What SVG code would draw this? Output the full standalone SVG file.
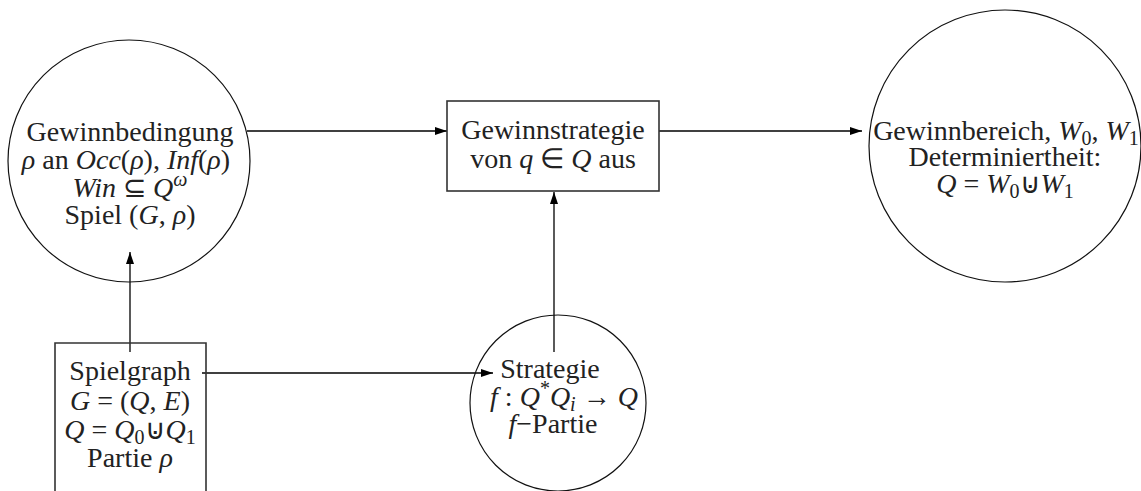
<svg xmlns="http://www.w3.org/2000/svg" width="1141" height="491" viewBox="0 0 1141 491">
<style>
.t{font-family:"Liberation Serif","Times New Roman",serif;font-size:28px;fill:#222;text-anchor:middle}
.i{font-style:italic}
.s{font-size:20px}
.node{fill:none;stroke:#111;stroke-width:1.2}
.box{fill:none;stroke:#333;stroke-width:1.6}
.edge{fill:none;stroke:#000;stroke-width:1.3}
</style>
<defs>
<marker id="ah" markerWidth="13" markerHeight="9" refX="12" refY="4" orient="auto" markerUnits="userSpaceOnUse">
<path d="M0,0 L12,4 L0,8 z" fill="#000"/>
</marker>
</defs>
<rect width="1141" height="491" fill="#fff"/>
<g id="connectors">
<line class="edge" x1="247" y1="131" x2="447" y2="131" marker-end="url(#ah)"/>
<line class="edge" x1="659" y1="131" x2="862" y2="131" marker-end="url(#ah)"/>
<line class="edge" x1="130" y1="352" x2="130" y2="252" marker-end="url(#ah)"/>
<line class="edge" x1="202" y1="373" x2="493" y2="373" marker-end="url(#ah)"/>
<line class="edge" x1="554" y1="352" x2="554" y2="192" marker-end="url(#ah)"/>
</g>
<g id="gewinnbedingung">
<circle class="node" cx="129" cy="161" r="121"/>
<text class="t" x="130" y="141">Gewinnbedingung</text>
<text class="t" x="126" y="169"><tspan class="i">ρ</tspan> an <tspan class="i">Occ</tspan>(<tspan class="i">ρ</tspan>), <tspan class="i">Inf</tspan>(<tspan class="i">ρ</tspan>)</text>
<text class="t" x="130" y="197"><tspan class="i">Win</tspan> ⊆ <tspan class="i">Q</tspan><tspan class="s i" dy="-11">ω</tspan></text>
<text class="t" x="130" y="224">Spiel (<tspan class="i">G</tspan>, <tspan class="i">ρ</tspan>)</text>
</g>
<g id="gewinnstrategie">
<rect class="box" x="447" y="101" width="212" height="90"/>
<text class="t" x="553" y="139">Gewinnstrategie</text>
<text class="t" x="553" y="168">von <tspan class="i">q</tspan> ∈ <tspan class="i">Q</tspan> aus</text>
</g>
<g id="gewinnbereich">
<circle class="node" cx="1005" cy="146" r="136"/>
<text class="t" x="1006" y="140">Gewinnbereich, <tspan class="i">W</tspan><tspan class="s" dy="5">0</tspan><tspan dy="-5">, </tspan><tspan class="i">W</tspan><tspan class="s" dy="5">1</tspan></text>
<text class="t" x="1005" y="166">Determiniertheit:</text>
<text class="t" x="1005" y="193"><tspan class="i">Q</tspan> = <tspan class="i">W</tspan><tspan class="s" dy="5">0</tspan><tspan dy="-5">⊍</tspan><tspan class="i">W</tspan><tspan class="s" dy="5">1</tspan></text>
</g>
<g id="spielgraph">
<path class="box" d="M55,491 L55,343 L206,343 L206,491"/>
<text class="t" x="130" y="380">Spielgraph</text>
<text class="t" x="130" y="410"><tspan class="i">G</tspan> = (<tspan class="i">Q</tspan>, <tspan class="i">E</tspan>)</text>
<text class="t" x="130" y="439"><tspan class="i">Q</tspan> = <tspan class="i">Q</tspan><tspan class="s" dy="5">0</tspan><tspan dy="-5">⊍</tspan><tspan class="i">Q</tspan><tspan class="s" dy="5">1</tspan></text>
<text class="t" x="130" y="467">Partie <tspan class="i">ρ</tspan></text>
</g>
<g id="strategie">
<circle class="node" cx="558" cy="403" r="88"/>
<text class="t" x="550" y="378">Strategie</text>
<text class="t" x="564" y="406"><tspan class="i">f</tspan> : <tspan class="i">Q</tspan><tspan class="s" dy="-11">*</tspan><tspan class="i" dy="11">Q</tspan><tspan class="s i" dy="5">i</tspan><tspan dy="-5"> → </tspan><tspan class="i">Q</tspan></text>
<text class="t" x="553" y="433"><tspan class="i">f</tspan>−Partie</text>
</g>
</svg>
